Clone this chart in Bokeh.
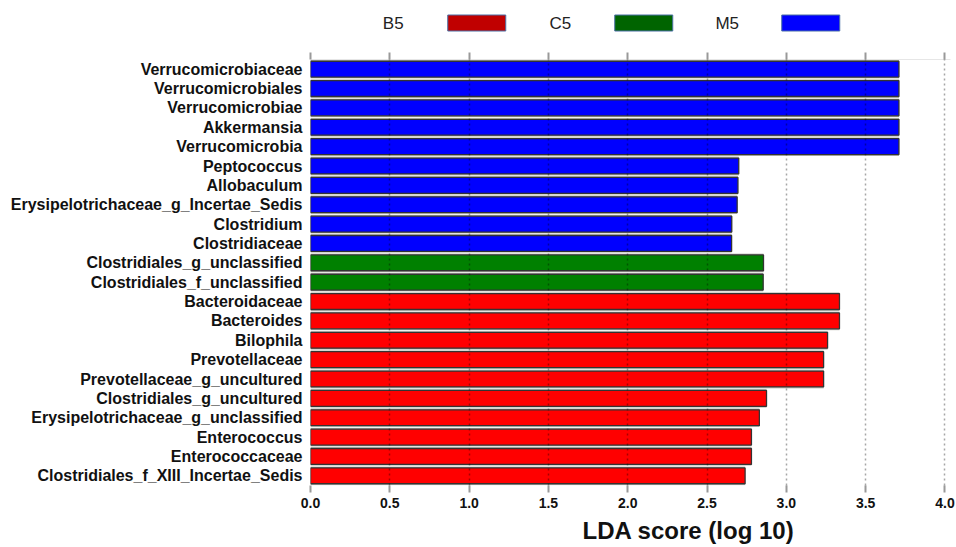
from bokeh.plotting import figure
from bokeh.layouts import column
from bokeh.core.properties import value
from bokeh.models import (FactorRange, Range1d, LinearAxis, FixedTicker, Title,
                          ColumnDataSource, PrintfTickFormatter)
from bokeh.embed import file_html
from bokeh.resources import INLINE

# ---------------- data ----------------
taxa = [
    "Verrucomicrobiaceae", "Verrucomicrobiales", "Verrucomicrobiae", "Akkermansia",
    "Verrucomicrobia", "Peptococcus", "Allobaculum", "Erysipelotrichaceae_g_Incertae_Sedis",
    "Clostridium", "Clostridiaceae", "Clostridiales_g_unclassified",
    "Clostridiales_f_unclassified", "Bacteroidaceae", "Bacteroides", "Bilophila",
    "Prevotellaceae", "Prevotellaceae_g_uncultured", "Clostridiales_g_uncultured",
    "Erysipelotrichaceae_g_unclassified", "Enterococcus", "Enterococcaceae",
    "Clostridiales_f_XIII_Incertae_Sedis",
]
lda = [3.71, 3.71, 3.71, 3.71, 3.71, 2.70, 2.695, 2.69, 2.656, 2.655, 2.856, 2.854,
       3.335, 3.335, 3.26, 3.235, 3.235, 2.875, 2.83, 2.78, 2.78, 2.74]
group = ["M5"] * 10 + ["C5"] * 2 + ["B5"] * 10
groups = ["B5", "C5", "M5"]
bar_colors = {"B5": "#ff0000", "C5": "#008000", "M5": "#0000ff"}
legend_colors = {"B5": "#c00000", "C5": "#006400", "M5": "#0000ff"}
x_ticks = [0.0, 0.5, 1.0, 1.5, 2.0, 2.5, 3.0, 3.5, 4.0]
x_title = "LDA  score (log 10)"

W = 956
FONT = "Liberation Sans"

# ---------------- legend strip ----------------
leg_factors = []
for g in groups:
    leg_factors += [(g, "label"), (g, "box")]
leg_src = ColumnDataSource(dict(
    lab=[(g, "label") for g in groups], box=[(g, "box") for g in groups],
    text=groups, color=[legend_colors[g] for g in groups], row=["legend"] * len(groups)))

leg = figure(width=W, height=45, output_backend="svg", toolbar_location=None,
             x_range=FactorRange(factors=leg_factors, range_padding=0,
                                 group_padding=0, factor_padding=0),
             y_range=FactorRange(factors=["legend"], range_padding=0),
             min_border_left=351, min_border_right=104, min_border_top=0,
             min_border_bottom=0)
leg.frame_align = False
leg.axis.visible = False
leg.grid.visible = False
leg.outline_line_color = None
leg.text(x="lab", y="row", text="text", source=leg_src, text_align="center",
         text_baseline="middle", text_font=value(FONT), text_font_size="17px",
         text_color="#222222")
leg.rect(x="box", y="row", width=58, height=16, width_units="screen",
         height_units="screen", source=leg_src, fill_color="color",
         line_color="#4a6fa5", line_width=1)

# ---------------- main chart ----------------
src = ColumnDataSource(dict(taxa=taxa, lda=lda, group=group,
                            color=[bar_colors[g] for g in group]))

p = figure(width=W, height=502, output_backend="svg", toolbar_location=None,
           y_range=FactorRange(factors=list(reversed(taxa)), range_padding=0),
           x_range=Range1d(0, 4.035), x_axis_location="below",
           min_border_left=310, min_border_top=14, min_border_bottom=61,
           min_border_right=6)
p.frame_align = False
p.outline_line_color = None

# shadow band + bars
p.hbar(y="taxa", left=0, right="lda", height=0.97, source=src,
       fill_color="#c9c9c2", line_color=None)
p.hbar(y="taxa", left=0, right="lda", height=0.82, source=src,
       fill_color="color", line_color="#333333", line_width=1.3)

# grid drawn over the bars
p.ygrid.grid_line_color = None
p.xgrid.ticker = FixedTicker(ticks=x_ticks)
p.xgrid.grid_line_color = "black"
p.xgrid.grid_line_alpha = 0.35
p.xgrid.grid_line_dash = "2 3"
p.xgrid.grid_line_width = 1.5
p.xgrid.level = "overlay"

# bottom axis
xa = p.xaxis[0]
xa.ticker = FixedTicker(ticks=x_ticks)
xa.formatter = PrintfTickFormatter(format="%.1f")
xa.axis_line_color = None
xa.major_tick_line_color = "#999999"
xa.major_tick_line_width = 2
xa.major_tick_in = 0
xa.major_tick_out = 7
xa.minor_tick_line_color = None
xa.major_label_text_font = FONT
xa.major_label_text_font_style = "bold"
xa.major_label_text_font_size = "14px"
xa.major_label_text_color = "#111111"
xa.major_label_standoff = 5

# axis title, shifted right like the reference
p.add_layout(Title(text=x_title, align="left", offset=272, standoff=8,
                   text_font=FONT, text_font_style="bold", text_font_size="24px",
                   text_color="#111111"), "below")

# top axis (ticks only)
top = LinearAxis(ticker=FixedTicker(ticks=x_ticks))
top.major_label_text_font_size = "0px"
top.major_label_text_color = None
top.axis_line_color = "#e6e6e6"
top.major_tick_line_color = "#999999"
top.major_tick_line_width = 2
top.major_tick_in = 0
top.major_tick_out = 7
top.minor_tick_line_color = None
top.major_label_standoff = 0
p.add_layout(top, "above")

# y axis labels
ya = p.yaxis[0]
ya.axis_line_color = None
ya.major_tick_line_color = None
ya.major_tick_out = 0
ya.major_tick_in = 0
ya.major_label_standoff = 8
ya.major_label_text_font = FONT
ya.major_label_text_font_style = "bold"
ya.major_label_text_font_size = "16px"
ya.major_label_text_color = "#111111"

layout = column(leg, p, spacing=0)
open("out.html", "w").write(file_html(layout, INLINE))
